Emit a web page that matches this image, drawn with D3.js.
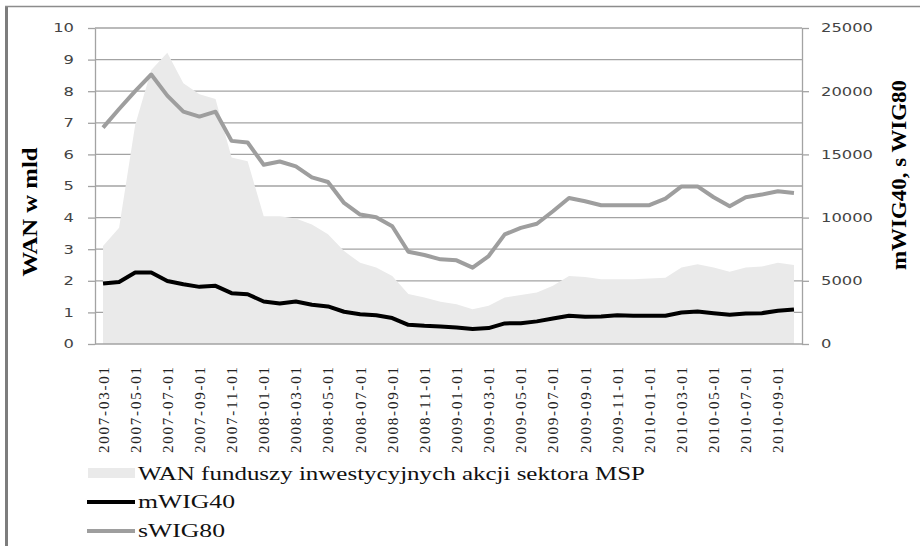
<!DOCTYPE html>
<html>
<head>
<meta charset="utf-8">
<script src="https://cdn.jsdelivr.net/npm/d3@7"></script>
<style>
  body { margin: 0; background: #fff; }
  svg { display: block; }
</style>
</head>
<body>
<div id="chart"></div>
<script>
const months = [
  '2007-03-01','2007-04-01','2007-05-01','2007-06-01','2007-07-01','2007-08-01','2007-09-01','2007-10-01',
  '2007-11-01','2007-12-01','2008-01-01','2008-02-01','2008-03-01','2008-04-01','2008-05-01','2008-06-01',
  '2008-07-01','2008-08-01','2008-09-01','2008-10-01','2008-11-01','2008-12-01','2009-01-01','2009-02-01',
  '2009-03-01','2009-04-01','2009-05-01','2009-06-01','2009-07-01','2009-08-01','2009-09-01','2009-10-01',
  '2009-11-01','2009-12-01','2010-01-01','2010-02-01','2010-03-01','2010-04-01','2010-05-01','2010-06-01',
  '2010-07-01','2010-08-01','2010-09-01','2010-10-01'
];

// WAN funduszy, mld zł (lewa oś)
const wan = [3.1, 3.68, 6.93, 8.67, 9.22, 8.25, 7.9, 7.75, 5.9, 5.78, 4.04, 4.04, 3.97, 3.78, 3.47, 2.94,
  2.57, 2.42, 2.15, 1.58, 1.47, 1.34, 1.26, 1.10, 1.21, 1.47, 1.55, 1.63, 1.84, 2.15, 2.12, 2.05,
  2.05, 2.05, 2.07, 2.10, 2.42, 2.52, 2.42, 2.29, 2.42, 2.45, 2.57, 2.50];

// indeksy (prawa oś)
const mwig40 = [4780, 4910, 5650, 5650, 4990, 4730, 4520, 4600, 4020, 3940, 3360, 3200, 3360, 3100, 2970, 2550,
  2360, 2280, 2050, 1520, 1440, 1390, 1310, 1180, 1260, 1630, 1650, 1790, 2020, 2230, 2150, 2180,
  2280, 2230, 2230, 2230, 2490, 2570, 2440, 2310, 2420, 2440, 2630, 2730];
const swig80 = [17120, 18590, 20010, 21320, 19650, 18380, 17990, 18380, 16070, 15940, 14180, 14440, 14050, 13180, 12820, 11160,
  10240, 10030, 9320, 7300, 7040, 6700, 6620, 6040, 6960, 8670, 9190, 9510, 10500, 11550, 11290, 10980,
  10980, 10980, 10980, 11500, 12470, 12470, 11610, 10900, 11610, 11820, 12080, 11950];

const leftTicks = [0, 1, 2, 3, 4, 5, 6, 7, 8, 9, 10];
const rightTicks = [0, 5000, 10000, 15000, 20000, 25000];

const width = 920, height = 546;
const plot = {left: 95, right: 802, top: 28, bottom: 344};
const sans = '"DejaVu Sans", Verdana, sans-serif';
const serif = '"Liberation Serif", "Times New Roman", serif';
const areaColor = '#eaeaea', grayLine = '#9e9e9e', gridColor = '#a3a3a3';

const svg = d3.select('#chart').append('svg')
  .attr('width', width)
  .attr('height', height);

// ramka
svg.append('rect')
  .attr('x', 5).attr('y', 6).attr('width', 3).attr('height', height - 6)
  .attr('fill', '#7d7d7d');
svg.append('line')
  .attr('x1', 5).attr('x2', width).attr('y1', 6.5).attr('y2', 6.5)
  .attr('stroke', '#8c8c8c').attr('stroke-width', 1.5);

let x = d3.scaleBand().domain(months).range([plot.left, plot.right]).padding(0),
  yL = d3.scaleLinear().domain([0, 10]).range([plot.bottom, plot.top]),
  yR = d3.scaleLinear().domain([0, 25000]).range([plot.bottom, plot.top]),
  cx = (d) => x(d) + x.bandwidth() / 2;

// siatka
svg.append('g')
  .selectAll('line')
  .data(leftTicks.slice(1))
  .enter()
    .append('line')
    .attr('x1', plot.left).attr('x2', plot.right)
    .attr('y1', (d) => yL(d)).attr('y2', (d) => yL(d))
    .attr('stroke', gridColor).attr('stroke-width', 1.3);

// obszar WAN
let area = d3.area()
  .x((d, i) => cx(months[i]))
  .y0(yL(0))
  .y1((d) => yL(d));

svg.append('path')
  .datum(wan)
  .attr('d', area)
  .attr('fill', areaColor);

// osie
let axisStyle = (g) => {
  g.select('.domain').attr('stroke', gridColor).attr('stroke-width', 1.3);
  g.selectAll('.tick line').attr('stroke', gridColor).attr('stroke-width', 1.3);
  g.selectAll('.tick text')
    .style('font-family', sans)
    .attr('font-size', 12)
    .attr('fill', '#444')
    .attr('lengthAdjust', 'spacingAndGlyphs')
    .attr('textLength', function() { return this.textContent.length * 10.4; });
};

svg.append('g')
  .attr('transform', 'translate(' + plot.left + ',0)')
  .call(d3.axisLeft(yL).tickValues(leftTicks).tickSize(7).tickSizeOuter(0).tickPadding(14).tickFormat(d3.format('d')))
  .call(axisStyle);

svg.append('g')
  .attr('transform', 'translate(' + plot.right + ',0)')
  .call(d3.axisRight(yR).tickValues(rightTicks).tickSize(7).tickSizeOuter(0).tickPadding(12).tickFormat(d3.format('d')))
  .call(axisStyle);

svg.append('line')
  .attr('x1', plot.left).attr('x2', plot.right)
  .attr('y1', plot.bottom).attr('y2', plot.bottom)
  .attr('stroke', gridColor).attr('stroke-width', 1.3);

// etykiety dat
svg.append('g')
  .selectAll('text')
  .data(months.filter((d, i) => i % 2 === 0))
  .enter()
    .append('text')
    .style('font-family', serif)
    .attr('transform', (d) => 'translate(' + (cx(d) + 5.5) + ',' + 367 + ') rotate(-90)')
    .attr('text-anchor', 'end')
    .attr('font-size', 15)
    .attr('fill', '#222')
    .attr('textLength', 86)
    .attr('lengthAdjust', 'spacing')
    .text((d) => d);

// linie indeksów
let line = (values) => d3.line()
  .x((d, i) => cx(months[i]))
  .y((d) => yR(d))(values);

svg.append('path')
  .attr('d', line(swig80))
  .attr('fill', 'none')
  .attr('stroke', grayLine)
  .attr('stroke-width', 4)
  .attr('stroke-linejoin', 'round');

svg.append('path')
  .attr('d', line(mwig40))
  .attr('fill', 'none')
  .attr('stroke', '#000')
  .attr('stroke-width', 4)
  .attr('stroke-linejoin', 'round');

// tytuły osi
svg.append('text')
  .style('font-family', serif)
  .attr('transform', 'translate(37,212) rotate(-90)')
  .attr('text-anchor', 'middle')
  .attr('font-weight', 'bold')
  .attr('font-size', 22)
  .attr('textLength', 129)
  .attr('lengthAdjust', 'spacingAndGlyphs')
  .text('WAN w mld');

svg.append('text')
  .style('font-family', serif)
  .attr('transform', 'translate(906,175) rotate(-90)')
  .attr('text-anchor', 'middle')
  .attr('font-weight', 'bold')
  .attr('font-size', 22)
  .attr('textLength', 190)
  .attr('lengthAdjust', 'spacingAndGlyphs')
  .text('mWIG40, s WIG80');

// legenda
let legend = svg.append('g');
legend.append('rect')
  .attr('x', 88).attr('y', 468).attr('width', 47).attr('height', 10)
  .attr('fill', areaColor);
legend.append('line')
  .attr('x1', 87).attr('x2', 135).attr('y1', 502).attr('y2', 502)
  .attr('stroke', '#000').attr('stroke-width', 4);
legend.append('line')
  .attr('x1', 87).attr('x2', 135).attr('y1', 531).attr('y2', 531)
  .attr('stroke', grayLine).attr('stroke-width', 4);

let legendItems = [
  {label: 'WAN funduszy inwestycyjnych akcji sektora MSP', y: 480, len: 507},
  {label: 'mWIG40', y: 508, len: 97},
  {label: 'sWIG80', y: 537, len: 87}
];
legend.selectAll('text.item')
  .data(legendItems)
  .enter()
    .append('text')
    .style('font-family', serif)
    .attr('x', 138)
    .attr('y', (d) => d.y)
    .attr('font-size', 19)
    .attr('fill', '#111')
    .attr('textLength', (d) => d.len)
    .attr('lengthAdjust', 'spacingAndGlyphs')
    .text((d) => d.label);
</script>
</body>
</html>
